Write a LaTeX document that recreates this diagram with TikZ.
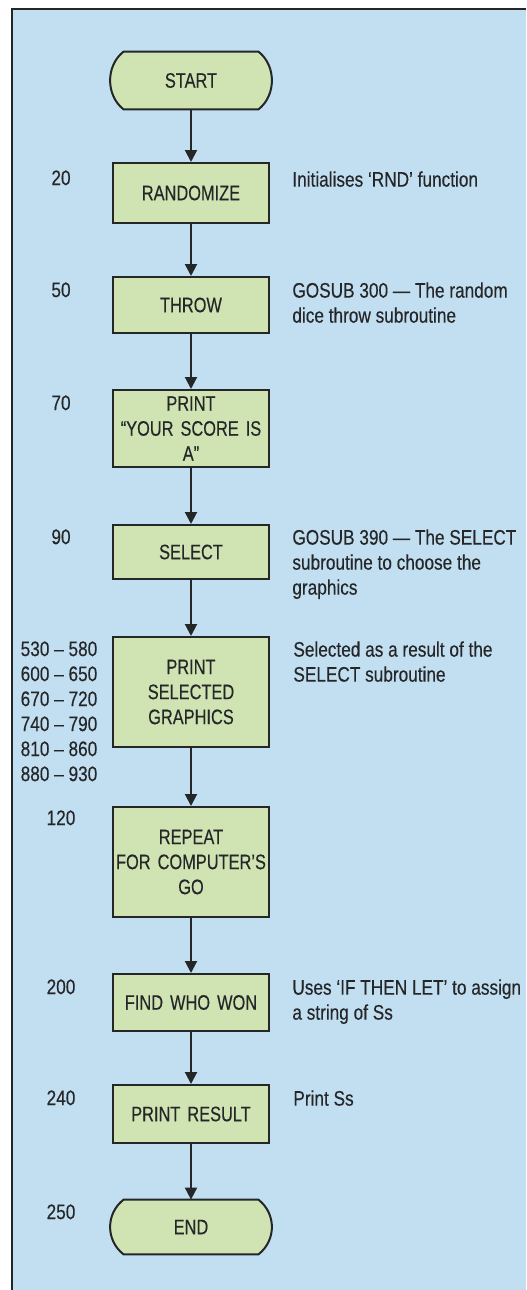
\documentclass[tikz,border=0pt]{standalone}
\usepackage{fontspec}
\setmainfont{Liberation Sans}[FakeStretch=0.82, FakeBold=0.3]
\newfontfamily\boxfont{Liberation Sans}[FakeStretch=0.78, FakeBold=0.3]
\usetikzlibrary{arrows.meta}
\definecolor{panelblue}{RGB}{194,223,242}
\definecolor{boxgreen}{RGB}{207,228,178}
\definecolor{inkgrey}{RGB}{36,38,40}

\begin{document}
\begin{tikzpicture}[
		x=0.5pt, y=-0.5pt,
		box/.style={rectangle, draw=inkgrey, line width=1pt, fill=boxgreen, minimum width=78pt, text width=77pt, align=center, inner sep=0pt, font=\boxfont\fontsize{10.5}{12.5}\selectfont, text=inkgrey},
		term/.style={rectangle, minimum width=67pt, inner sep=0pt, font=\boxfont\fontsize{10.5}{12.5}\selectfont, text=inkgrey},
		termline/.style={draw=inkgrey, line width=1pt, fill=boxgreen},
		arrow/.style={line width=1pt, draw=inkgrey, -{Triangle[width=6pt,length=6pt]}},
		num/.style={anchor=north, align=center, inner sep=0pt, font=\fontsize{10.5}{12.5}\selectfont, text=inkgrey},
		note/.style={anchor=north west, align=left, inner sep=0pt, font=\fontsize{10.5}{12.5}\selectfont, text=inkgrey}
		]
		
		% panel
		\useasboundingbox (0,0) rectangle (526,1290);
		\fill[white] (0,0) rectangle (526,1290);
		\fill[panelblue] (12,9) rectangle (526,1290);
		\draw[inkgrey, line width=1pt] (12,1290) -- (12,9) -- (526,9);
		
		% flow
		\node (start) at (191,80.5) [term, minimum height=28.5pt] {START};
		\filldraw[termline] (start.north west) -- (start.north east) .. controls +(9pt,-7pt) and +(9pt,7pt) .. (start.south east) -- (start.south west) .. controls +(-9pt,7pt) and +(-9pt,-7pt) .. (start.north west) -- cycle;
		\node at (start) [term] {START};
		
		\node (randomize) at (191,193) [box, minimum height=30pt] {RANDOMIZE};
		\node (throw) at (191,305) [box, minimum height=28pt] {THROW};
		\node (score) at (191,428.5) [box, minimum height=38.5pt] {PRINT\\“YOUR SCORE IS\\A”};
		\node (select) at (191,552) [box, minimum height=27pt] {SELECT};
		\node (graphics) at (191,692) [box, minimum height=55pt] {PRINT\\SELECTED\\GRAPHICS};
		\node (repeatgo) at (191,862) [box, minimum height=55pt] {REPEAT\\FOR COMPUTER’S\\GO};
		\node (findwon) at (191,1002.5) [box, minimum height=28.5pt] {FIND WHO WON};
		\node (result) at (191,1114) [box, minimum height=29pt] {PRINT RESULT};
		
		\node (finish) at (191,1227) [term, minimum height=27pt] {END};
		\filldraw[termline] (finish.north west) -- (finish.north east) .. controls +(9pt,-7pt) and +(9pt,7pt) .. (finish.south east) -- (finish.south west) .. controls +(-9pt,7pt) and +(-9pt,-7pt) .. (finish.north west) -- cycle;
		\node at (finish) [term] {END};
		
		\draw [arrow] (start) -- (randomize);
		\draw [arrow] (randomize) -- (throw);
		\draw [arrow] (throw) -- (score);
		\draw [arrow] (score) -- (select);
		\draw [arrow] (select) -- (graphics);
		\draw [arrow] (graphics) -- (repeatgo);
		\draw [arrow] (repeatgo) -- (findwon);
		\draw [arrow] (findwon) -- (result);
		\draw [arrow] (result) -- (finish);
		
		% line numbers
		\node (l20) at (61,170) [num] {20};
		\node (l50) at (61,282) [num] {50};
		\node (l70) at (61,395) [num] {70};
		\node (l90) at (61,529) [num] {90};
		\node (lsel) at (59,641) [num] {530 – 580\\600 – 650\\670 – 720\\740 – 790\\810 – 860\\880 – 930};
		\node (l120) at (61,810) [num] {120};
		\node (l200) at (61,979) [num] {200};
		\node (l240) at (61,1090) [num] {240};
		\node (l250) at (61,1204) [num] {250};
		
		% notes
		\node (nrandomize) at (292,171) [note] {Initialises ‘RND’ function};
		\node (nthrow) at (292,282) [note] {GOSUB 300 — The random\\dice throw subroutine};
		\node (nselect) at (292,529) [note] {GOSUB 390 — The SELECT\\subroutine to choose the\\graphics};
		\node (ngraphics) at (293,641) [note] {Selected as a result of the\\SELECT subroutine};
		\node (nfindwon) at (292,979) [note] {Uses ‘IF THEN LET’ to assign\\a string of Ss};
		\node (nresult) at (293,1090) [note] {Print Ss};
	\end{tikzpicture}
\end{document}
